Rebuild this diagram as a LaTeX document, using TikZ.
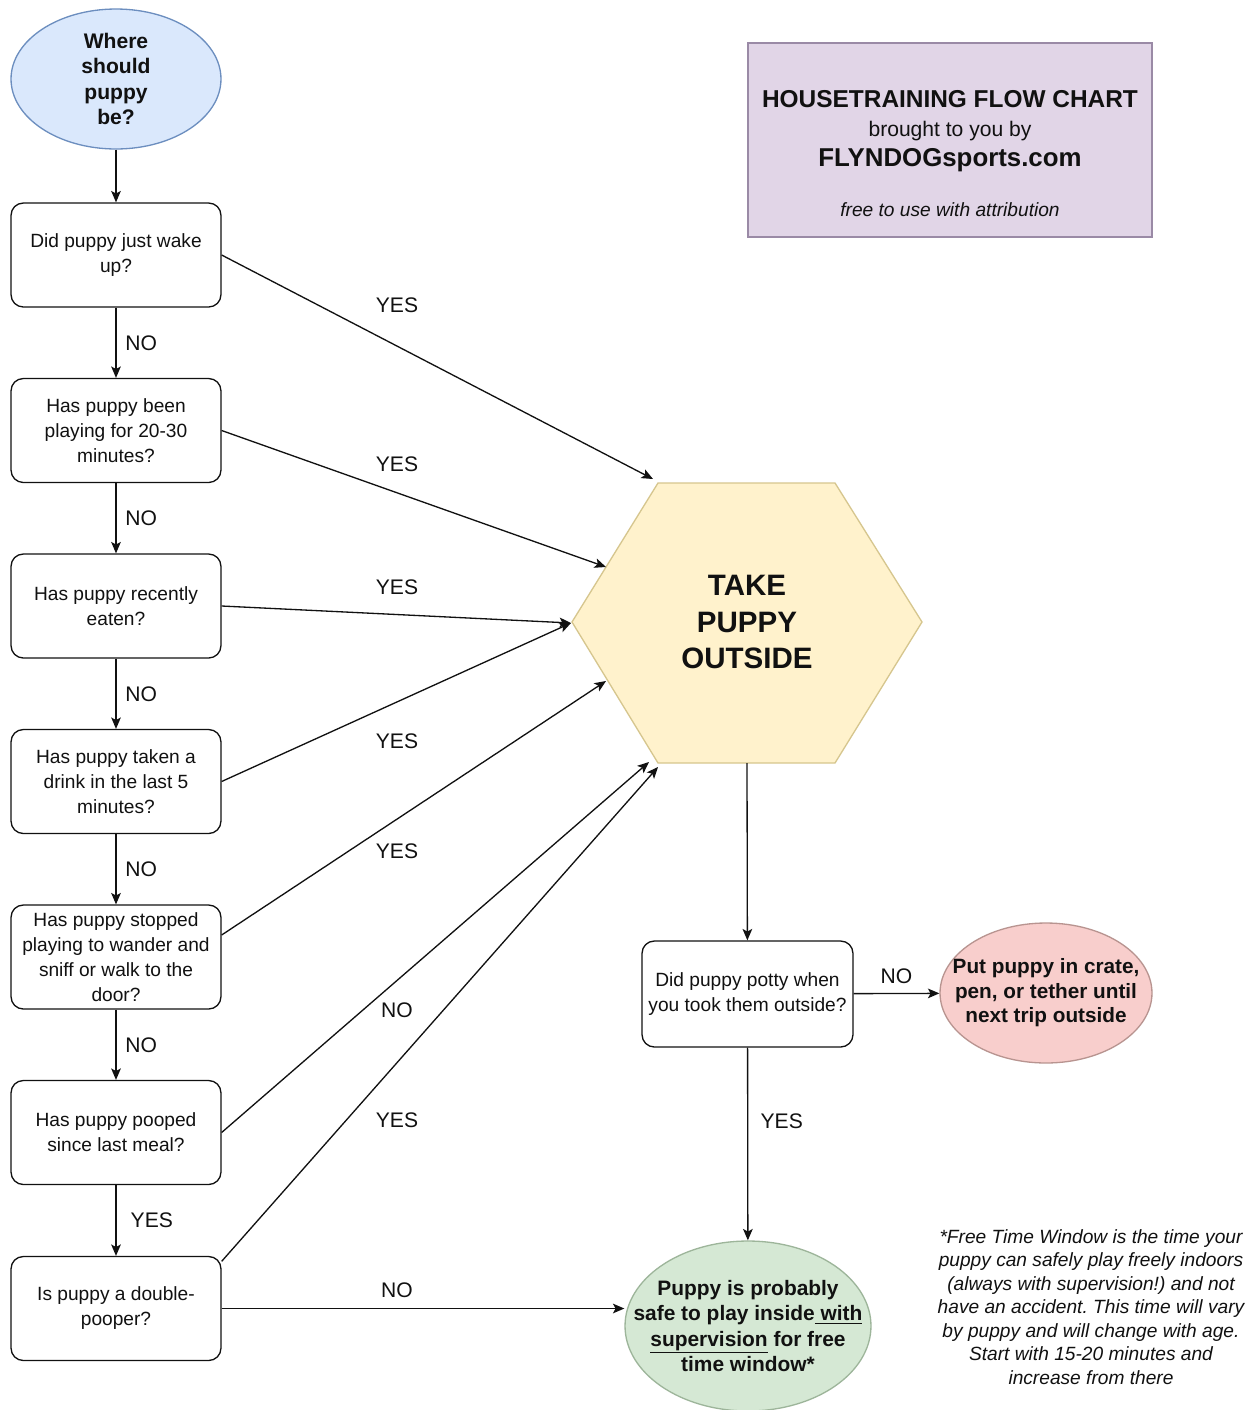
\documentclass[tikz,border=0pt]{standalone}
\usepackage{fontspec}
\setmainfont{Liberation Sans}
\usetikzlibrary{shapes.geometric,arrows.meta}
\definecolor{bluefill}{HTML}{DAE8FC}\definecolor{bluedraw}{HTML}{6C8EBF}
\definecolor{purpfill}{HTML}{E1D5E7}\definecolor{purpdraw}{HTML}{9A8AA6}
\definecolor{yelfill}{HTML}{FFF2CC}\definecolor{yeldraw}{HTML}{D6C68E}
\definecolor{redfill}{HTML}{F8CECC}\definecolor{reddraw}{HTML}{B89490}
\definecolor{grnfill}{HTML}{D5E8D4}\definecolor{grndraw}{HTML}{9DB59A}
\definecolor{ink}{HTML}{111111}
\frenchspacing
\begin{document}
\begin{tikzpicture}[x=0.02cm,y=-0.02cm,
  qbox/.style={draw=ink, line width=0.75pt, rounded corners=7pt, fill=white,
    minimum width=4.2cm, minimum height=2.08cm, align=center, inner sep=1pt,
    text=ink, font=\fontsize{10.9}{14.2}\selectfont},
  shapeonly/.style={ellipse, line width=0.75pt, inner sep=0pt},
  boldtxt/.style={align=center, inner sep=0pt, text=ink, font=\bfseries\fontsize{12}{14.5}\selectfont},
  lab/.style={inner sep=2pt, text=ink, font=\fontsize{12}{14}\selectfont},
  arr/.style={draw=ink, line width=0.75pt, -{Stealth[length=6.5pt,width=5.5pt,inset=1.5pt]}}
]
\useasboundingbox (0,0) rectangle (1249,1410);
\fill[white] (0,0) rectangle (1249,1410);

% title box
\node[draw=purpdraw, fill=purpfill, line width=0.75pt, minimum width=8.08cm, minimum height=3.88cm, inner sep=0pt] (title) at (950,140) {};
\node[anchor=base, inner sep=0pt, text=ink, font=\bfseries\fontsize{13.9}{16}\selectfont] (t1) at (950,107) {HOUSETRAINING FLOW CHART};
\node[anchor=base, inner sep=0pt, text=ink, font=\fontsize{12}{14}\selectfont] (t2) at (950,136) {brought to you by};
\node[anchor=base, inner sep=0pt, text=ink, font=\bfseries\fontsize{14.7}{17}\selectfont] (t3) at (950,166) {FLYNDOGsports.com};
\node[anchor=base, inner sep=0pt, text=ink, font=\itshape\fontsize{10.9}{13}\selectfont] (t4) at (950,216) {free to use with attribution};

% start ellipse
\node[shapeonly, draw=bluedraw, fill=bluefill, minimum width=4.2cm, minimum height=2.8cm] (start) at (116,79) {};
\node[boldtxt] (starttxt) at (116,79) {Where\\should\\puppy\\be?};

% question boxes
\node[qbox] (b1) at (116,255) {Did puppy just wake\\up?};
\node[qbox] (b2) at (116,430.5) {Has puppy been\\playing for 20-30\\minutes?};
\node[qbox] (b3) at (116,606) {Has puppy recently\\eaten?};
\node[qbox] (b4) at (116,781.5) {Has puppy taken a\\drink in the last 5\\minutes?};
\node[qbox] (b5) at (116,957) {Has puppy stopped\\playing to wander and\\sniff or walk to the\\door?};
\node[qbox] (b6) at (116,1132.5) {Has puppy pooped\\since last meal?};
\node[qbox] (b7) at (116,1308.5) {Is puppy a double-\\pooper?};

% hexagon
\filldraw[fill=yelfill, draw=yeldraw, line width=0.75pt]
  (658,483) -- (835,483) -- (922,622) -- (835,763) -- (658,763) -- (572,622) -- cycle;
\node[align=center, inner sep=0pt, text=ink, font=\bfseries\fontsize{16.8}{20.7}\selectfont] (hex) at (747,622) {TAKE\\PUPPY\\OUTSIDE};
\coordinate (h1) at (653,479);
\coordinate (h2) at (606,567);
\coordinate (h3) at (571,623);
\coordinate (h4) at (606,681);
\coordinate (h6) at (649,762);
\coordinate (h7) at (658,767);
\coordinate (hbot) at (747,763);

% potty box
\node[qbox, minimum width=4.22cm, minimum height=2.12cm] (potty) at (747.5,994) {Did puppy potty when\\you took them outside?};

% red ellipse
\node[shapeonly, draw=reddraw, fill=redfill, minimum width=4.24cm, minimum height=2.8cm] (crate) at (1046,993) {};
\node[boldtxt, font=\bfseries\fontsize{11.8}{13.9}\selectfont] (cratetxt) at (1046,993) {Put puppy in crate,\\pen, or tether until\\next trip outside};

% green ellipse
\node[shapeonly, draw=grndraw, fill=grnfill, minimum width=4.92cm, minimum height=3.4cm] (safe) at (748,1326) {};
\node[boldtxt, font=\bfseries\fontsize{11.9}{14.3}\selectfont] (safetxt) at (748,1326) {Puppy is probably\\safe to play inside\underline{\ with}\\\underline{supervision} for free\\time window*};

% footnote
\node[align=center, inner sep=0pt, text=ink, font=\itshape\fontsize{10.9}{13.4}\selectfont] (note) at (1091,1307) {*Free Time Window is the time your\\puppy can safely play freely indoors\\(always with supervision!) and not\\have an accident. This time will vary\\by puppy and will change with age.\\Start with 15-20 minutes and\\increase from there};

% vertical chain
\draw[arr] (start) -- (b1);
\draw[arr] (b1) -- node[lab, right=3pt] {NO} (b2);
\draw[arr] (b2) -- node[lab, right=3pt] {NO} (b3);
\draw[arr] (b3) -- node[lab, right=3pt] {NO} (b4);
\draw[arr] (b4) -- node[lab, right=3pt] {NO} (b5);
\draw[arr] (b5) -- node[lab, right=3pt] {NO} (b6);
\draw[arr] (b6) -- node[lab, right=6pt] {YES} (b7);

% to hexagon
\draw[arr] (b1.east) -- (h1);
\draw[arr] (b2.east) -- (h2);
\draw[arr] (b3.east) -- (h3);
\draw[arr] (b4.east) -- (h3);
\draw[arr] ([yshift=0.44cm]b5.east) -- (h4);
\draw[arr] (b6.east) -- (h6);
\draw[arr] ([yshift=-0.11cm]b7.north east) -- (h7);
\node[lab] (l1) at (397,305) {YES};
\node[lab] (l2) at (397,464) {YES};
\node[lab] (l3) at (397,587) {YES};
\node[lab] (l4) at (397,741) {YES};
\node[lab] (l5) at (397,851) {YES};
\node[lab] (l6) at (397,1010) {NO};
\node[lab] (l7) at (397,1120) {YES};

% bottom
\draw[arr] (b7.east) -- (b7.east -| safe.west);
\node[lab] (l8) at (397,1290) {NO};
\draw[arr] (hbot) -- (potty);
\draw[arr] (potty) -- node[lab, above=3pt] {NO} (crate);
\draw[arr] (potty) -- node[lab, pos=0.38, right=5pt] {YES} (safe);
\end{tikzpicture}
\end{document}
